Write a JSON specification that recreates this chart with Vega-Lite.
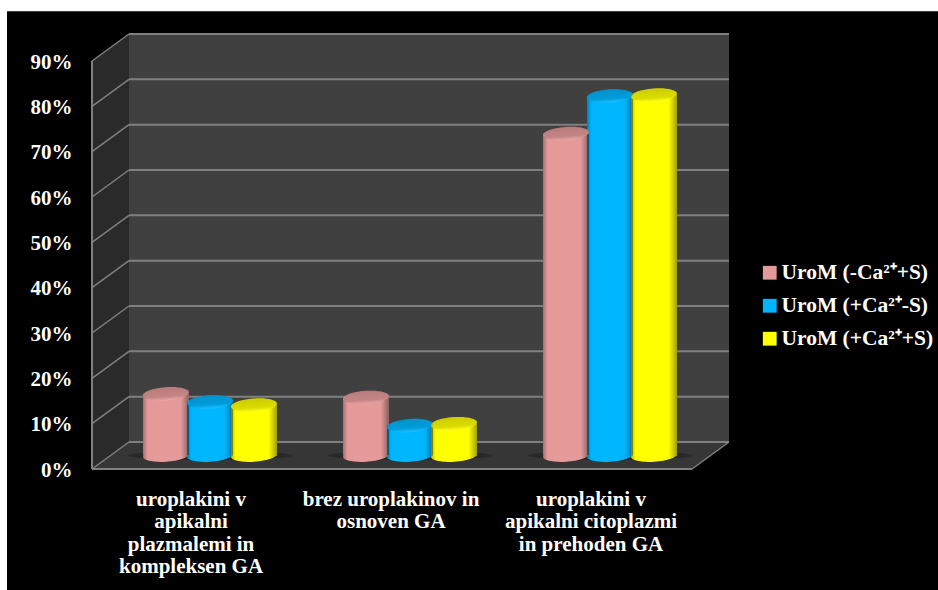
{
  "$schema": "https://vega.github.io/schema/vega-lite/v6.json",
  "width": 637,
  "height": 435,
  "padding": {"left": 92, "top": 34, "right": 209, "bottom": 121},
  "autosize": {"type": "none"},
  "background": "#ffffff",
  "config": {"view": {"stroke": null}},
  "datasets": {
    "shares": [
      {"group": "uroplakini v|apikalni|plazmalemi in|kompleksen GA", "series": "UroM (-Ca²⁺+S)", "share": 13.6},
      {"group": "uroplakini v|apikalni|plazmalemi in|kompleksen GA", "series": "UroM (+Ca²⁺-S)", "share": 11.8},
      {"group": "uroplakini v|apikalni|plazmalemi in|kompleksen GA", "series": "UroM (+Ca²⁺+S)", "share": 11.1},
      {"group": "brez uroplakinov in|osnoven GA", "series": "UroM (-Ca²⁺+S)", "share": 12.8},
      {"group": "brez uroplakinov in|osnoven GA", "series": "UroM (+Ca²⁺-S)", "share": 6.6},
      {"group": "brez uroplakinov in|osnoven GA", "series": "UroM (+Ca²⁺+S)", "share": 7.0},
      {"group": "uroplakini v|apikalni citoplazmi|in prehoden GA", "series": "UroM (-Ca²⁺+S)", "share": 71.0},
      {"group": "uroplakini v|apikalni citoplazmi|in prehoden GA", "series": "UroM (+Ca²⁺-S)", "share": 79.3},
      {"group": "uroplakini v|apikalni citoplazmi|in prehoden GA", "series": "UroM (+Ca²⁺+S)", "share": 79.5}
    ],
    "grid": [
      {"front": 0, "back": 5.96}, {"front": 10, "back": 15.96}, {"front": 20, "back": 25.96},
      {"front": 30, "back": 35.96}, {"front": 40, "back": 45.96}, {"front": 50, "back": 55.96},
      {"front": 60, "back": 65.96}, {"front": 70, "back": 75.96}, {"front": 80, "back": 85.96},
      {"front": 90, "back": 95.96}
    ],
    "sideWall": [
      {"u": 0, "low": 0, "high": 90},
      {"u": 0.185, "low": 5.96, "high": 95.96}
    ],
    "floor": [
      {"u": 0, "low": 0, "high": 0},
      {"u": 0.185, "low": 0, "high": 5.96},
      {"u": 3, "low": 0, "high": 5.96},
      {"u": 3.185, "low": 5.96, "high": 5.96}
    ],
    "groups": [
      {"group": "uroplakini v|apikalni|plazmalemi in|kompleksen GA"},
      {"group": "brez uroplakinov in|osnoven GA"},
      {"group": "uroplakini v|apikalni citoplazmi|in prehoden GA"}
    ]
  },
  "layer": [
    {
      "description": "Black panel, chart walls, floor and gridlines in depth units",
      "layer": [
        {
          "data": {"values": [{"panel": "black"}]},
          "mark": {"type": "rect", "fill": "#000000", "clip": false},
          "encoding": {
            "x": {"datum": -0.425, "type": "quantitative", "scale": {"domain": [0, 3.185], "range": [0, 637], "nice": false, "zero": false}, "axis": null},
            "x2": {"datum": 4.23},
            "y": {
              "datum": 101,
              "type": "quantitative",
              "scale": {"domain": [0, 95.96], "nice": false},
              "axis": {
                "values": [0, 10, 20, 30, 40, 50, 60, 70, 80, 90],
                "title": null,
                "domain": false,
                "ticks": false,
                "grid": false,
                "zindex": 1,
                "labelExpr": "datum.value + '%'",
                "labelFont": "Liberation Serif",
                "labelFontWeight": "bold",
                "labelFontSize": 21,
                "labelColor": "#ffffff",
                "labelPadding": 20,
                "labelOffset": 1
              }
            },
            "y2": {"datum": -26.7}
          }
        },
        {
          "data": {"values": [{"panel": "back"}]},
          "mark": {"type": "rect", "fill": "#404040"},
          "encoding": {
            "x": {"datum": 0.185, "type": "quantitative"},
            "x2": {"datum": 3.185},
            "y": {"datum": 5.96, "type": "quantitative"},
            "y2": {"datum": 95.96}
          }
        },
        {
          "data": {"name": "sideWall"},
          "mark": {"type": "area", "fill": "#2a2a2a"},
          "encoding": {
            "x": {"field": "u", "type": "quantitative"},
            "y": {"field": "low", "type": "quantitative"},
            "y2": {"field": "high"}
          }
        },
        {
          "data": {"name": "floor"},
          "mark": {"type": "area", "fill": "#363636"},
          "encoding": {
            "x": {"field": "u", "type": "quantitative"},
            "y": {"field": "low", "type": "quantitative"},
            "y2": {"field": "high"}
          }
        },
        {
          "data": {"name": "grid"},
          "mark": {"type": "rule", "stroke": "#808080", "strokeWidth": 2},
          "encoding": {
            "x": {"datum": 0.185, "type": "quantitative"},
            "x2": {"datum": 3.185},
            "y": {"field": "back", "type": "quantitative"}
          }
        },
        {
          "data": {"name": "grid"},
          "mark": {"type": "rule", "stroke": "#808080", "strokeWidth": 1.5},
          "encoding": {
            "x": {"datum": 0, "type": "quantitative"},
            "x2": {"datum": 0.185},
            "y": {"field": "front", "type": "quantitative"},
            "y2": {"field": "back"}
          }
        },
        {
          "data": {"values": [{"edge": "left"}]},
          "mark": {"type": "rule", "stroke": "#808080", "strokeWidth": 2},
          "encoding": {
            "x": {"datum": 0, "type": "quantitative"},
            "y": {"datum": 0, "type": "quantitative"},
            "y2": {"datum": 90}
          }
        },
        {
          "data": {"values": [{"edge": "front"}]},
          "mark": {"type": "rule", "stroke": "#808080", "strokeWidth": 2},
          "encoding": {
            "x": {"datum": 0, "type": "quantitative"},
            "x2": {"datum": 3},
            "y": {"datum": 0, "type": "quantitative"}
          }
        },
        {
          "data": {"values": [{"edge": "right"}]},
          "mark": {"type": "rule", "stroke": "#808080", "strokeWidth": 1.5},
          "encoding": {
            "x": {"datum": 3, "type": "quantitative"},
            "x2": {"datum": 3.185},
            "y": {"datum": 0, "type": "quantitative"},
            "y2": {"datum": 5.96}
          }
        }
      ]
    },
    {
      "description": "Cylinders standing at mid depth, lifted off the front edge of the floor",
      "encoding": {
        "x": {
          "field": "group",
          "type": "nominal",
          "sort": null,
          "scale": {"range": [18, 618], "paddingInner": 0.34, "paddingOuter": 0.17},
          "axis": {
            "orient": "bottom",
            "title": null,
            "domain": false,
            "ticks": false,
            "grid": false,
            "zindex": 1,
            "labelAngle": 0,
            "labelBaseline": "top",
            "labelExpr": "split(datum.label, '|')",
            "labelFont": "Liberation Serif",
            "labelFontWeight": "bold",
            "labelFontSize": 21,
            "labelLineHeight": 22.5,
            "labelColor": "#ffffff",
            "labelPadding": 19,
            "labelOffset": -19,
            "labelLimit": 0
          }
        }
      },
      "layer": [
        {
          "data": {"name": "groups"},
          "mark": {"type": "point", "filled": true, "fill": "#262626", "opacity": 0.8, "size": 27000, "yOffset": -13.5, "shape": "M-1,0A1,0.055,0,1,1,1,0A1,0.055,0,1,1,-1,0Z"},
          "encoding": {"y": {"datum": 0, "type": "quantitative"}}
        },
        {
          "data": {"name": "shares"},
          "mark": {"type": "point", "filled": true, "opacity": 1, "size": 2116, "angle": -4, "yOffset": -13.5, "shape": "M-1,0A1,0.27,0,1,1,1,0A1,0.27,0,1,1,-1,0Z"},
          "encoding": {
            "xOffset": {"field": "series", "type": "nominal", "sort": null},
            "y": {"datum": 0, "type": "quantitative"},
            "color": {
              "field": "series",
              "type": "nominal",
              "sort": null,
              "scale": {
                "domain": ["UroM (-Ca²⁺+S)", "UroM (+Ca²⁺-S)", "UroM (+Ca²⁺+S)"],
                "range": ["#e59a9a", "#00b6ff", "#ffff00"]
              },
              "legend": {
                "orient": "none",
                "legendX": 667,
                "legendY": 228,
                "title": null,
                "symbolType": "square",
                "symbolSize": 190,
                "symbolStrokeWidth": 0,
                "labelFont": "Liberation Serif",
                "labelFontWeight": "bold",
                "labelFontSize": 21.5,
                "labelColor": "#ffffff",
                "labelOffset": 1,
                "labelLimit": 0,
                "rowPadding": 10,
                "zindex": 1
              }
            }
          }
        },
        {
          "data": {"name": "shares"},
          "mark": {"type": "point", "filled": true, "opacity": 1, "size": 2116, "angle": -4, "yOffset": -13.5, "shape": "M-1,0A1,0.27,0,1,1,1,0A1,0.27,0,1,1,-1,0Z",
            "fill": {"gradient": "linear", "x1": 0, "x2": 1, "y1": 0, "y2": 0, "stops": [
              {"offset": 0, "color": "rgba(0,0,0,0.28)"},
              {"offset": 0.1, "color": "rgba(0,0,0,0)"},
              {"offset": 0.82, "color": "rgba(0,0,0,0)"},
              {"offset": 1, "color": "rgba(0,0,0,0.38)"}
            ]}},
          "encoding": {
            "xOffset": {"field": "series", "type": "nominal", "sort": null},
            "y": {"datum": 0, "type": "quantitative"}
          }
        },
        {
          "data": {"name": "shares"},
          "mark": {"type": "bar", "size": 46, "yOffset": -13.5, "y2Offset": -13.5},
          "encoding": {
            "xOffset": {"field": "series", "type": "nominal", "sort": null},
            "y": {"field": "share", "type": "quantitative"},
            "color": {"field": "series", "type": "nominal", "sort": null}
          }
        },
        {
          "data": {"name": "shares"},
          "mark": {"type": "bar", "size": 46, "yOffset": -13.5, "y2Offset": -13.5,
            "fill": {"gradient": "linear", "x1": 0, "x2": 1, "y1": 0, "y2": 0, "stops": [
              {"offset": 0, "color": "rgba(0,0,0,0.28)"},
              {"offset": 0.1, "color": "rgba(0,0,0,0)"},
              {"offset": 0.82, "color": "rgba(0,0,0,0)"},
              {"offset": 1, "color": "rgba(0,0,0,0.38)"}
            ]}},
          "encoding": {
            "xOffset": {"field": "series", "type": "nominal", "sort": null},
            "y": {"field": "share", "type": "quantitative"}
          }
        },
        {
          "data": {"name": "shares"},
          "mark": {"type": "point", "filled": true, "opacity": 1, "size": 2116, "angle": -4, "yOffset": -13.5, "shape": "M-1,0A1,0.29,0,1,1,1,0A1,0.29,0,1,1,-1,0Z"},
          "encoding": {
            "xOffset": {"field": "series", "type": "nominal", "sort": null},
            "y": {"field": "share", "type": "quantitative"},
            "color": {"field": "series", "type": "nominal", "sort": null}
          }
        },
        {
          "data": {"name": "shares"},
          "mark": {"type": "point", "filled": true, "opacity": 1, "size": 2116, "angle": -4, "yOffset": -13.5, "shape": "M-1,0A1,0.29,0,1,1,1,0A1,0.29,0,1,1,-1,0Z",
            "fill": {"gradient": "linear", "x1": 0, "x2": 0, "y1": 0, "y2": 1, "stops": [
              {"offset": 0, "color": "rgba(0,0,0,0.2)"},
              {"offset": 0.7, "color": "rgba(0,0,0,0.14)"},
              {"offset": 1, "color": "rgba(255,255,255,0.12)"}
            ]}},
          "encoding": {
            "xOffset": {"field": "series", "type": "nominal", "sort": null},
            "y": {"field": "share", "type": "quantitative"}
          }
        }
      ]
    }
  ],
  "resolve": {"scale": {"x": "independent"}}
}
